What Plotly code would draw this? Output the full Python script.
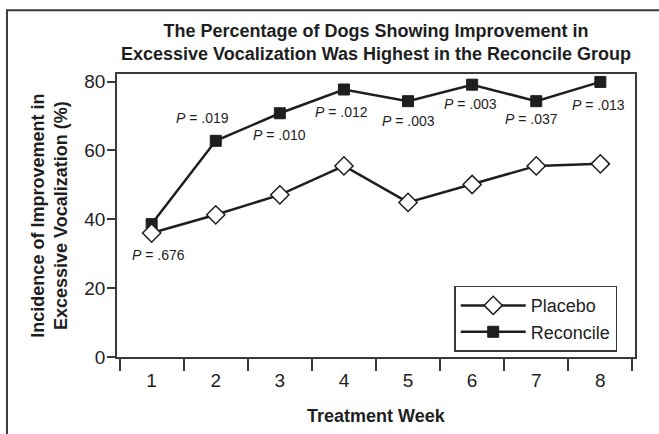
import plotly.graph_objects as go

# ---- data ----
weeks = ["1", "2", "3", "4", "5", "6", "7", "8"]
placebo = [36.0, 41.3, 47.1, 55.5, 44.9, 50.1, 55.5, 56.1]
reconcile = [38.6, 62.8, 70.8, 77.7, 74.3, 79.1, 74.3, 79.9]
p_values = [".676", ".019", ".010", ".012", ".003", ".003", ".037", ".013"]
y_ticks = [0, 20, 40, 60, 80]

# ---- style / label placement (offsets from each week, in axis units) ----
p_dx = [0.10, -0.20, 0.0, -0.04, 0.0, -0.03, -0.07, -0.03]
p_y = [29.7, 69.4, 64.5, 71.2, 68.6, 73.5, 69.1, 73.2]

FONT = "Liberation Sans, Arial, Helvetica, sans-serif"
INK = "#1e1e1e"
FRAME = "#3a3a3a"

fig = go.Figure()
fig.add_trace(go.Scatter(
    x=weeks, y=reconcile, name="Reconcile", mode="lines+markers",
    line=dict(color=INK, width=2.5),
    marker=dict(symbol="square", size=11, color=INK, line=dict(color=INK, width=1)),
    legendrank=2,
))
fig.add_trace(go.Scatter(
    x=weeks, y=placebo, name="Placebo", mode="lines+markers",
    line=dict(color=INK, width=2.5),
    marker=dict(symbol="diamond", size=14, color="white", line=dict(color=INK, width=1.5)),
    legendrank=1,
))

annotations = []
for i, (p, dx, yy) in enumerate(zip(p_values, p_dx, p_y)):
    annotations.append(dict(
        x=i + dx, y=yy, xref="x", yref="y", text="<i>P</i> = " + p,
        showarrow=False, font=dict(family=FONT, size=14, color=INK),
        xanchor="center", yanchor="middle",
    ))

# axis titles
annotations.append(dict(
    x=0.5, y=-0.21, xref="paper", yref="paper", text="<b>Treatment Week</b>",
    showarrow=False, font=dict(family=FONT, size=18, color=INK),
    xanchor="center", yanchor="middle",
))
annotations.append(dict(
    x=-0.131, y=0.5, xref="paper", yref="paper",
    text="<b>Incidence of Improvement in<br>Excessive Vocalization (%)</b>",
    showarrow=False, textangle=-90, font=dict(family=FONT, size=18, color=INK),
    xanchor="center", yanchor="middle",
))

# outer frame (left + top edge)
shapes = [dict(
    type="path", xref="paper", yref="paper",
    path="M -0.2124,-0.30 L -0.2124,1.2257 L 1.10,1.2257",
    line=dict(color=FRAME, width=2),
)]

fig.update_layout(
    width=659, height=434,
    margin=dict(l=117, r=24, t=74, b=77),
    paper_bgcolor="white", plot_bgcolor="white",
    font=dict(family=FONT, color=INK),
    title=dict(
        text="<b>The Percentage of Dogs Showing Improvement in<br>Excessive Vocalization Was Highest in the Reconcile Group</b>",
        x=0.5, xref="paper", xanchor="center",
        y=1 - 36.5 / 434, yref="container", yanchor="middle",
        font=dict(family=FONT, size=18, color=INK),
    ),
    xaxis=dict(
        type="category", tickson="boundaries", ticks="outside", ticklen=12,
        tickwidth=1.5, tickcolor=FRAME, showline=True, linecolor=FRAME, linewidth=1.5,
        mirror=True, showgrid=False, zeroline=False, ticklabelstandoff=5,
        tickfont=dict(family=FONT, size=19, color=INK),
    ),
    yaxis=dict(
        range=[0, 82.2], tickvals=y_ticks, ticks="outside", ticklen=8,
        tickwidth=1.5, tickcolor=FRAME, showline=True, linecolor=FRAME, linewidth=1.5,
        mirror=True, showgrid=False, zeroline=False, ticklabelstandoff=-2,
        tickfont=dict(family=FONT, size=19, color=INK),
    ),
    legend=dict(
        x=0.651, y=0.252, xanchor="left", yanchor="top",
        bordercolor=FRAME, borderwidth=1.5, bgcolor="white",
        font=dict(family=FONT, size=18, color=INK), itemwidth=65,
        tracegroupgap=0,
    ),
    annotations=annotations,
    shapes=shapes,
    showlegend=True,
)

fig.write_html("out.html", config={"displayModeBar": False},
               post_script="document.body.style.margin='0';")
